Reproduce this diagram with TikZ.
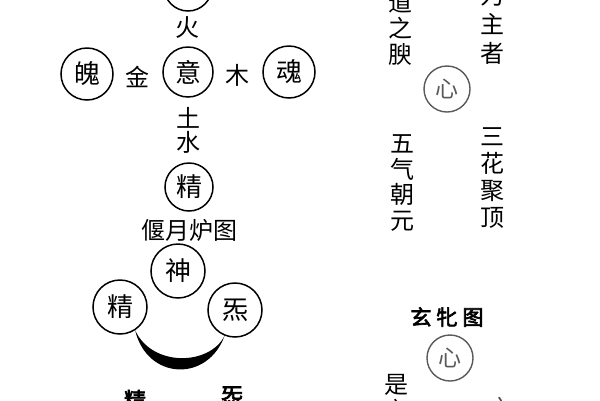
\documentclass[tikz,border=0pt]{standalone}
\usepackage{fontspec}
\newfontfamily\cjk{Noto Sans CJK SC}
\newfontfamily\cjkb[FakeBold=3]{Noto Sans CJK SC}
\begin{document}
\begin{tikzpicture}[x=1pt,y=-1pt,
  circ/.style={circle, draw, line width=1.5pt, inner sep=0pt, font=\cjk\fontsize{26}{26}\selectfont},
  gcirc/.style={circle, draw=black!65, text=black!65, line width=1.4pt, inner sep=0pt, minimum size=46pt, font=\cjk\fontsize{23}{23}\selectfont},
  lab/.style={inner sep=0pt, font=\cjk\fontsize{24}{24}\selectfont},
  col/.style={inner sep=0pt, align=center, font=\cjk\fontsize{24}{26}\selectfont},
  boldlab/.style={inner sep=0pt, font=\cjkb\fontsize{22}{22}\selectfont}]
\useasboundingbox (0,0) rectangle (600,400);
\clip (0,0) rectangle (600,400);
% left figure, upper cross
\node[circ, minimum size=48pt] (top) at (188,-13) {};
\node[lab] (huo) at (187,28) {火};
\node[circ, minimum size=50pt] (yi) at (188,72) {意};
\node[circ, minimum size=52pt] (po) at (87,74) {魄};
\node[lab] (jin) at (137,77) {金};
\node[lab] (mu) at (237,75) {木};
\node[circ, minimum size=52pt] (hun) at (289,72) {魂};
\node[lab] (tu) at (188,118) {土};
\node[lab] (shui) at (188,142) {水};
\node[circ, minimum size=48pt] (jing) at (189,187) {精};
% yanyue lu
\node[lab] (title1) at (189,230) {偃月炉图};
\node[circ, minimum size=54pt] (shen) at (178,271) {神};
\node[circ, minimum size=54pt] (jing2) at (120,307) {精};
\node[circ, minimum size=54pt] (qi) at (235,310) {炁};
\fill (jing2.-57) .. controls +(12,50) and +(-17,47) .. (qi.-112)
      .. controls +(-15,30) and +(17,37) .. (jing2.-57) -- cycle;
\node[boldlab] (b1) at (135,400) {精};
\node[boldlab] (b2) at (232,396) {炁};
% right figure
\node[col] (c1) at (400,28) {道\\之\\腴};
\node[col, font=\cjk\fontsize{24}{29}\selectfont] (c2) at (492,24) {为\\主\\者};
\node[gcirc] (xin1) at (447,89) {心};
\node[col, font=\cjk\fontsize{24}{25.7}\selectfont] (c3) at (402,183) {五\\气\\朝\\元};
\node[col, font=\cjk\fontsize{24}{27}\selectfont] (c4) at (492,178.5) {三\\花\\聚\\顶};
\node[boldlab, font=\cjkb\fontsize{21}{21}\selectfont] (title2) at (447,317) {玄\hspace{5pt}牝\hspace{5pt}图};
\node[gcirc] (xin2) at (450,358) {心};
\node[col] (c5) at (396,398) {是\\之};
\node[lab, text=black!70] (c6) at (500,408) {之};
\end{tikzpicture}
\end{document}
